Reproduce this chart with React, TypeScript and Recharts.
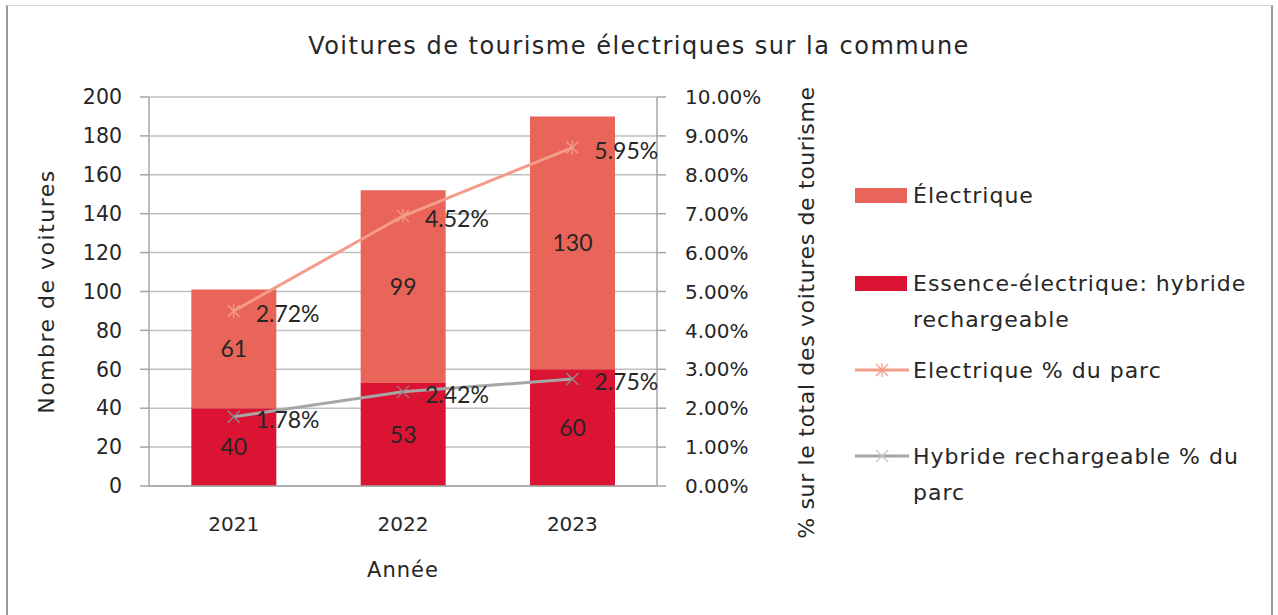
import React from 'react';
import {
  ComposedChart,
  Bar,
  Area,
  XAxis,
  YAxis,
  CartesianGrid,
  Legend,
  LabelList,
} from 'recharts';

const years = ['2021', '2022', '2023'];
const hybridCount = [40, 53, 60];
const electricCount = [61, 99, 130];
const hybridPct = [1.78, 2.42, 2.75];
const electricPct = [2.72, 4.52, 5.95];
const leftTicks = [0, 20, 40, 60, 80, 100, 120, 140, 160, 180, 200];
const rightTicks = [0, 1, 2, 3, 4, 5, 6, 7, 8, 9, 10];
const edgeTicks = [0, 1, 2, 3];

const data = years.map((y, i) => ({
  year: y,
  hyb: hybridCount[i],
  elec: electricCount[i],
  hybPct: hybridPct[i],
  elecPct: electricPct[i],
}));

const ELEC_BAR = '#E96559';
const HYB_BAR = '#DC1433';
const ELEC_LINE = '#F49C8A';
const HYB_LINE = '#A6A6A6';
const AXIS = '#A6A6A6';
const GRID = '#BFBFBF';
const TXT = '#262626';
const FONT = '"DejaVu Sans", sans-serif';
const LABEL_FONT = 'Lato, "Liberation Sans", sans-serif';

const StarMarker = (props: any) => {
  const { cx, cy, color } = props;
  if (cx == null || cy == null) return null;
  const r = 6;
  return (
    <g>
      <line x1={cx - r} y1={cy - r} x2={cx + r} y2={cy + r} stroke={color} strokeWidth={1.3} />
      <line x1={cx - r} y1={cy + r} x2={cx + r} y2={cy - r} stroke={color} strokeWidth={1.3} />
      <line x1={cx} y1={cy - r - 1} x2={cx} y2={cy + r + 1} stroke={color} strokeWidth={1.3} />
    </g>
  );
};

const XMarker = (props: any) => {
  const { cx, cy, color } = props;
  if (cx == null || cy == null) return null;
  const r = 6;
  return (
    <g>
      <line x1={cx - r} y1={cy - r} x2={cx + r} y2={cy + r} stroke={color} strokeWidth={1.3} />
      <line x1={cx - r} y1={cy + r} x2={cx + r} y2={cy - r} stroke={color} strokeWidth={1.3} />
    </g>
  );
};

const pctLabel = (arr: number[]) => (props: any) => {
  const { x, y, index } = props;
  if (x == null || y == null) return null;
  return (
    <text
      key={`pl-${index}`}
      x={x + 22}
      y={y + 2}
      textAnchor="start"
      dominantBaseline="central"
      fontFamily={LABEL_FONT}
      fontSize={23}
      fill={TXT}
    >
      {arr[index].toFixed(2) + '%'}
    </text>
  );
};

const LeftTitle = (props: any) => {
  const vb = props.viewBox || {};
  const cx = (vb.x ?? 0) + 46;
  const cy = (vb.y ?? 0) + (vb.height ?? 0) / 2;
  return (
    <text
      x={cx}
      y={cy}
      transform={`rotate(-90 ${cx} ${cy})`}
      textAnchor="middle"
      dominantBaseline="central"
      fontFamily={FONT}
      fontSize={22}
      letterSpacing={1.5}
      fill={TXT}
    >
      Nombre de voitures
    </text>
  );
};

const RightTitle = (props: any) => {
  const vb = props.viewBox || {};
  const cx = (vb.x ?? 0) + 149;
  const cy = (vb.y ?? 0) + (vb.height ?? 0) / 2 + 21;
  return (
    <text
      x={cx}
      y={cy}
      transform={`rotate(-90 ${cx} ${cy})`}
      textAnchor="middle"
      dominantBaseline="central"
      fontFamily={FONT}
      fontSize={22}
      letterSpacing={0.65}
      fill={TXT}
    >
      % sur le total des voitures de tourisme
    </text>
  );
};

const XTitle = (props: any) => {
  const vb = props.viewBox || {};
  const cx = (vb.x ?? 0) + (vb.width ?? 0) / 2;
  const cy = (vb.y ?? 0) + 84;
  return (
    <text
      x={cx}
      y={cy}
      textAnchor="middle"
      dominantBaseline="central"
      fontFamily={FONT}
      fontSize={21}
      letterSpacing={1}
      fill={TXT}
    >
      Année
    </text>
  );
};

const legendItems = [
  { kind: 'bar', color: ELEC_BAR, lines: ['Électrique'], y: 35 },
  { kind: 'bar', color: HYB_BAR, lines: ['Essence-électrique: hybride', 'rechargeable'], y: 123 },
  { kind: 'star', color: ELEC_LINE, lines: ['Electrique % du parc'], y: 210 },
  { kind: 'x', color: HYB_LINE, lines: ['Hybride rechargeable % du', 'parc'], y: 296 },
];

const renderLegend = () => (
  <svg width={420} height={360} style={{ display: 'block' }}>
    {legendItems.map((it, i) => (
      <g key={i}>
        {it.kind === 'bar' ? (
          <rect x={10} y={it.y - 7} width={52} height={15} fill={it.color} />
        ) : (
          <g>
            <line x1={10} y1={it.y} x2={64} y2={it.y} stroke={it.color} strokeWidth={3} />
            {it.kind === 'star' ? (
              <StarMarker cx={37} cy={it.y} color={it.color} />
            ) : (
              <XMarker cx={37} cy={it.y} color="#C8C8C8" />
            )}
          </g>
        )}
        {it.lines.map((ln, j) => (
          <text
            key={j}
            x={68}
            y={it.y + j * 36}
            dominantBaseline="central"
            fontFamily={FONT}
            fontSize={22}
            letterSpacing={1}
            fill={TXT}
          >
            {ln}
          </text>
        ))}
      </g>
    ))}
  </svg>
);

export default function App() {
  return (
    <div style={{ position: 'absolute', left: 0, top: 0, width: 1278, height: 615, background: '#fff' }}>
      <div
        style={{
          position: 'absolute',
          left: 6,
          top: 5,
          width: 1263,
          height: 620,
          borderTop: '1px solid #d6d6d6',
          borderLeft: '2px solid #9a9a9a',
          borderRight: '2px solid #9a9a9a',
        }}
      />
      <div
        style={{
          position: 'absolute',
          left: 0,
          top: 30,
          width: 1278,
          height: 32,
          lineHeight: '32px',
          textAlign: 'center',
          fontFamily: FONT,
          fontSize: 24,
          letterSpacing: 1.5,
          color: TXT,
        }}
      >
        Voitures de tourisme électriques sur la commune
      </div>
      <div style={{ position: 'absolute', left: 0, top: 0 }}>
        <ComposedChart
          width={1278}
          height={615}
          data={data}
          margin={{ top: 97, left: 0, right: 31, bottom: 33 }}
          barCategoryGap="25%"
        >
          <CartesianGrid horizontal vertical={false} stroke={GRID} strokeWidth={1.5} yAxisId="left" />
          <XAxis
            xAxisId="edges"
            type="number"
            domain={[0, 3]}
            ticks={edgeTicks}
            allowDataOverflow
            tick={false}
            tickSize={9}
            axisLine={false}
            tickLine={{ stroke: AXIS, strokeWidth: 1.5 }}
            height={1}
          />
          <XAxis
            dataKey="year"
            tickLine={false}
            tickSize={0}
            tickMargin={31}
            axisLine={{ stroke: AXIS, strokeWidth: 1.5 }}
            tick={{ fontFamily: FONT, fontSize: 20, fill: TXT }}
            height={95}
            label={<XTitle />}
          />
          <YAxis
            yAxisId="left"
            width={149}
            domain={[0, 200]}
            ticks={leftTicks}
            interval={0}
            tickSize={9}
            tickMargin={18}
            axisLine={{ stroke: AXIS, strokeWidth: 1.5 }}
            tickLine={{ stroke: AXIS, strokeWidth: 1.5 }}
            tick={{ fontFamily: FONT, fontSize: 20.5, fill: TXT }}
            label={<LeftTitle />}
          />
          <YAxis
            yAxisId="right"
            orientation="right"
            width={170}
            domain={[0, 10]}
            ticks={rightTicks}
            interval={0}
            tickSize={9}
            tickMargin={19}
            tickFormatter={(v: number) => v.toFixed(2) + '%'}
            axisLine={{ stroke: AXIS, strokeWidth: 1.5 }}
            tickLine={{ stroke: AXIS, strokeWidth: 1.5 }}
            tick={{ fontFamily: FONT, fontSize: 20, fill: TXT }}
            label={<RightTitle />}
          />
          <Bar dataKey="hyb" stackId="cars" yAxisId="left" fill={HYB_BAR} isAnimationActive={false}>
            <LabelList dataKey="hyb" position="center" fontFamily={LABEL_FONT} fontSize={23} fill={TXT} />
          </Bar>
          <Bar dataKey="elec" stackId="cars" yAxisId="left" fill={ELEC_BAR} isAnimationActive={false}>
            <LabelList dataKey="elec" position="center" fontFamily={LABEL_FONT} fontSize={23} fill={TXT} />
          </Bar>
          <Area
            type="linear"
            dataKey="hybPct"
            stackId="pct"
            yAxisId="right"
            stroke={HYB_LINE}
            strokeWidth={3}
            fill="none"
            fillOpacity={0}
            isAnimationActive={false}
            activeDot={false}
            zIndex={500}
            dot={(p: any) => <XMarker key={`hd-${p.index}`} cx={p.cx} cy={p.cy} color="#8C8C8C" />}
            label={pctLabel(hybridPct)}
          />
          <Area
            type="linear"
            dataKey="elecPct"
            stackId="pct"
            yAxisId="right"
            stroke={ELEC_LINE}
            strokeWidth={3}
            fill="none"
            fillOpacity={0}
            isAnimationActive={false}
            activeDot={false}
            zIndex={500}
            dot={(p: any) => <StarMarker key={`ed-${p.index}`} cx={p.cx} cy={p.cy} color={ELEC_LINE} />}
            label={pctLabel(electricPct)}
          />
          <Legend
            layout="vertical"
            align="right"
            verticalAlign="top"
            wrapperStyle={{ left: 845, top: 160, width: 420, height: 360 }}
            content={renderLegend}
          />
        </ComposedChart>
      </div>
    </div>
  );
}
